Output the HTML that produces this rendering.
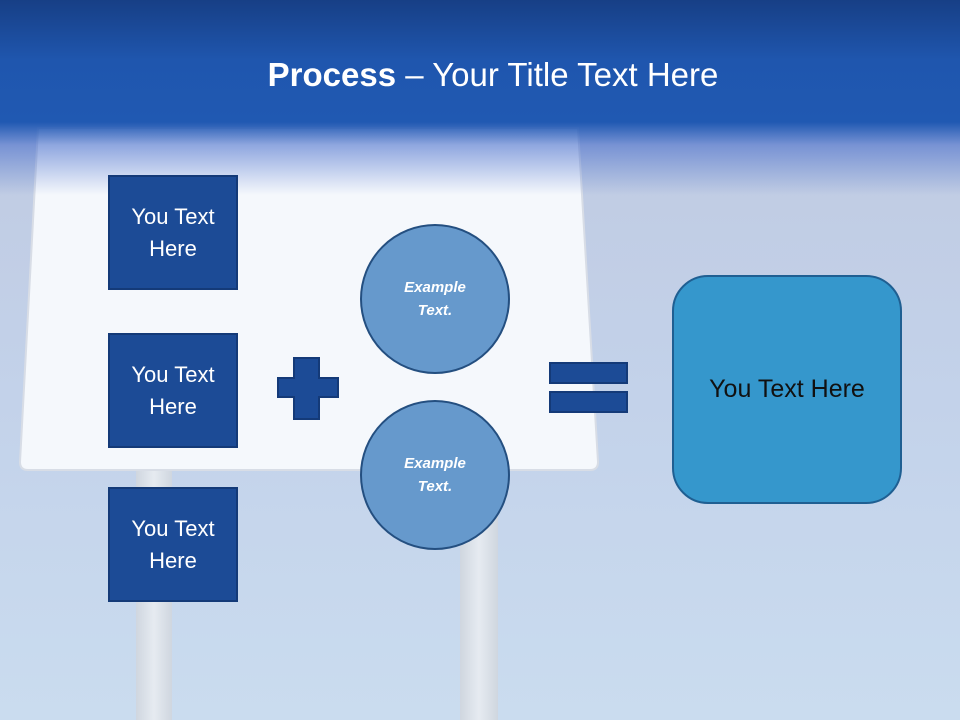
<!DOCTYPE html>
<html><head><style>
body{margin:0;width:960px;height:720px;overflow:hidden;font-family:"Liberation Sans",sans-serif;}
.bg{position:absolute;left:0;top:0;width:960px;height:720px;background:linear-gradient(#c0cbe2 130px,#c3d2ea 400px,#cadcef 720px);}
.hdr{position:absolute;left:0;top:0;width:960px;height:200px;background:linear-gradient(#173f86 0px,#1f56ae 60px,#2059b2 122px,rgba(60,100,200,0.55) 145px,rgba(200,210,235,0) 195px);}
.t{position:absolute;top:56px;left:0;width:986px;text-align:center;color:#fff;font-size:33px;}
.box{position:absolute;left:108px;width:126px;height:111px;background:#1c4b96;border:2px solid #143a78;color:#fff;font-size:22px;line-height:32px;display:flex;align-items:center;justify-content:center;text-align:center;}
.c{position:absolute;width:146px;height:146px;border-radius:50%;background:#6699cc;border:2px solid #244f80;color:#fff;font-style:italic;font-weight:bold;font-size:15px;line-height:23px;display:flex;align-items:center;justify-content:center;text-align:center;}
.r{position:absolute;background:#1c4b96;border:2px solid #143a78;box-sizing:border-box;}
</style></head><body>
<div class="bg"></div>
<div style="position:absolute;left:136px;top:465px;width:36px;height:255px;background:linear-gradient(90deg,#cfd6df,#e6ebf1,#cfd6df)"></div>
<div style="position:absolute;left:460px;top:465px;width:38px;height:255px;background:linear-gradient(90deg,#cfd6df,#e6ebf1,#cfd6df)"></div>
<svg style="position:absolute;left:0;top:0" width="960" height="720"><path d="M38,128 L578,128 L598,462 Q598,470 590,470 L28,470 Q20,470 20,462 Z" fill="#f5f8fc" stroke="#d8dde6" stroke-width="2"/></svg>
<div class="hdr"></div>
<div class="t"><b>Process</b> – Your Title Text Here</div>
<div class="box" style="top:175px">You Text<br>Here</div>
<div class="box" style="top:333px">You Text<br>Here</div>
<div class="box" style="top:487px">You Text<br>Here</div>
<div class="c" style="left:360px;top:224px">Example<br>Text.</div>
<div class="c" style="left:360px;top:400px">Example<br>Text.</div>
<svg style="position:absolute;left:0;top:0" width="960" height="720"><path d="M294,358 H319 V378 H338 V397 H319 V419 H294 V397 H278 V378 H294 Z" fill="#1c4b96" stroke="#143a78" stroke-width="2"/></svg>
<div class="r" style="left:549px;top:362px;width:79px;height:22px"></div>
<div class="r" style="left:549px;top:391px;width:79px;height:22px"></div>
<div style="position:absolute;left:672px;top:275px;width:226px;height:225px;border-radius:36px;background:#3597cc;border:2px solid #1f5f92;display:flex;align-items:center;justify-content:center;font-size:25px;color:#111;">You Text Here</div>
</body></html>
